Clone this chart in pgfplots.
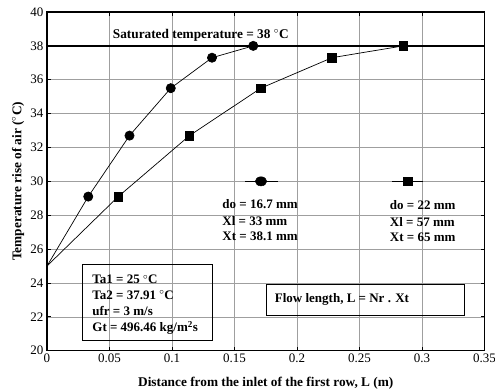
\documentclass[border=0pt]{standalone}
\usepackage{pgfplots}
\pgfplotsset{compat=1.18}
\usepackage{fontspec}
\setmainfont{Liberation Serif}
\begin{document}
\begin{tikzpicture}
\begin{axis}[
  name=ax,
  scale only axis, width=437.5pt, height=338.7pt,
  xmin=0, xmax=0.35, ymin=20, ymax=40,
  xtick={0,0.05,0.1,0.15,0.2,0.25,0.3,0.35},
  xticklabels={0,0.05,0.1,0.15,0.2,0.25,0.3,0.35},
  ytick={20,22,...,40},
  tick align=inside, tick pos=both, major tick length=4pt,
  tick style={black, line width=0.8pt},
  grid=major, grid style={gray!75, line width=0.6pt},
  axis line style={line width=1.3pt},
  ticklabel style={font=\fontsize{13}{15}\selectfont},
  /pgf/number format/assume math mode=true,
  xlabel={Distance from the inlet of the first row, L (m)},
  ylabel={Temperature rise of air ($^\circ$C)},
  label style={font=\bfseries\fontsize{13.3}{15}\selectfont},
  xlabel style={at={(axis description cs:0.5,-0.0954)}, anchor=center},
  ylabel style={at={(axis description cs:-0.0663,0.5)}, anchor=center},
  clip=false,
]
% saturated line
\addplot[black, line width=1.6pt] coordinates {(0,38) (0.35,38)};
% do = 16.7 mm series
\addplot[black, line width=0.7pt, mark=*, mark size=4.6pt, mark indices={2,3,4,5,6}, mark options={solid, fill=black}]
  coordinates {(0,25) (0.033,29.1) (0.066,32.7) (0.099,35.5) (0.132,37.3) (0.165,38)};
% do = 22 mm series
\addplot[black, line width=0.7pt, mark=square*, mark size=4.3pt, mark indices={2,3,4,5,6}, mark options={solid, fill=black}]
  coordinates {(0,25) (0.057,29.1) (0.114,32.7) (0.171,35.5) (0.228,37.3) (0.285,38)};
% legend-like symbols
\addplot[black, line width=0.7pt] coordinates {(0.1584,30) (0.185,30)};
\addplot[black, only marks, mark=*, mark size=4.6pt, mark options={fill=black, xscale=1.25}] coordinates {(0.1712,30)};
\addplot[black, line width=0.7pt] coordinates {(0.2758,30) (0.301,30)};
\addplot[black, only marks, mark=square*, mark size=4.3pt, mark options={fill=black}] coordinates {(0.2886,30)};

\node[font=\bfseries\fontsize{13.3}{15}\selectfont, anchor=center] at (axis cs:0.123,38.64) {Saturated temperature = 38 $^\circ$C};

\node[font=\bfseries\fontsize{13}{15}\selectfont, anchor=west] at (axis cs:0.1375,28.64) {do = 16.7 mm};
\node[font=\bfseries\fontsize{13}{15}\selectfont, anchor=west] at (axis cs:0.1375,27.66) {Xl = 33 mm};
\node[font=\bfseries\fontsize{13}{15}\selectfont, anchor=west] at (axis cs:0.1375,26.73) {Xt = 38.1 mm};

\node[font=\bfseries\fontsize{13}{15}\selectfont, anchor=west] at (axis cs:0.2715,28.58) {do = 22 mm};
\node[font=\bfseries\fontsize{13}{15}\selectfont, anchor=west] at (axis cs:0.2715,27.62) {Xl = 57 mm};
\node[font=\bfseries\fontsize{13}{15}\selectfont, anchor=west] at (axis cs:0.2715,26.70) {Xt = 65 mm};

\draw[black, line width=0.9pt] (axis cs:0.0286,20.63) rectangle (axis cs:0.132,25.07);
\node[font=\bfseries\fontsize{13}{15}\selectfont, anchor=west] at (axis cs:0.0335,24.2) {Ta1 = 25 $^\circ$C};
\node[font=\bfseries\fontsize{13}{15}\selectfont, anchor=west] at (axis cs:0.0335,23.3) {Ta2 = 37.91 $^\circ$C};
\node[font=\bfseries\fontsize{13}{15}\selectfont, anchor=west] at (axis cs:0.0335,22.37) {ufr = 3 m/s};
\node[font=\bfseries\fontsize{13}{15}\selectfont, anchor=west] at (axis cs:0.0335,21.35) {Gt = 496.46 kg/m$^{\mathbf{2}}$s};

\draw[black, line width=0.9pt] (axis cs:0.1752,22.09) rectangle (axis cs:0.3336,23.92);
\node[font=\bfseries\fontsize{13}{15}\selectfont, anchor=west] at (axis cs:0.1795,23.03) {Flow length, L = Nr . Xt};
\end{axis}
\pgfresetboundingbox
\path[use as bounding box] ([xshift=-47pt,yshift=-41.3pt]ax.south west) rectangle ([xshift=10.5pt,yshift=12pt]ax.north east);
\end{tikzpicture}
\end{document}
